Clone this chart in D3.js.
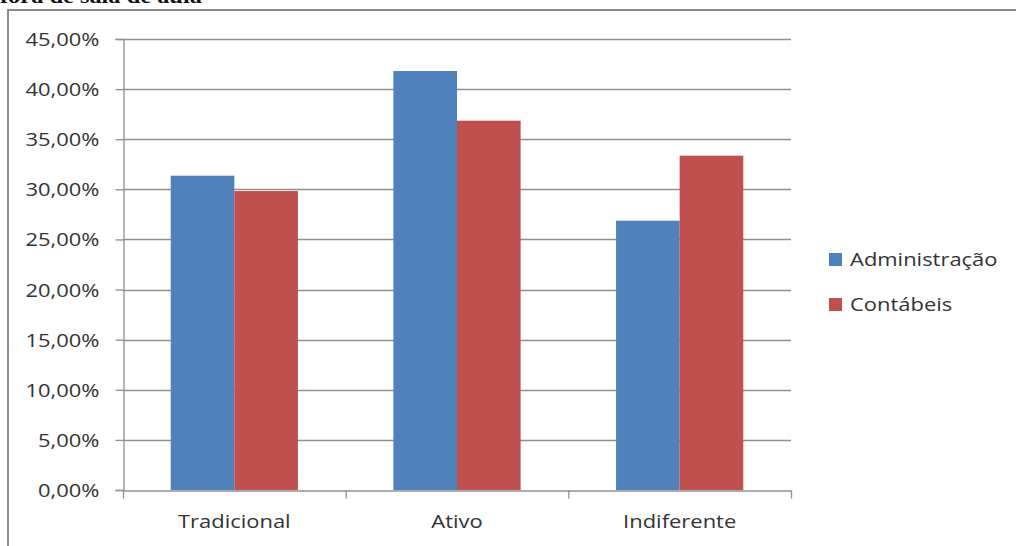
<!DOCTYPE html>
<html>
<head>
<meta charset="utf-8">
<script src="https://cdn.jsdelivr.net/npm/d3@7"></script>
<style>
  html, body { margin: 0; padding: 0; background: #fff; }
  svg { display: block; }
</style>
</head>
<body>
<svg id="chart" width="1016" height="546"></svg>
<script>
// ---- data ----
const categories = ["Tradicional", "Ativo", "Indiferente"];
const seriesNames = ["Administração", "Contábeis"];
const administracao = [0.3136, 0.4181, 0.2687];
const contabeis = [0.2983, 0.3685, 0.3336];
const yTicks = [0, 0.05, 0.10, 0.15, 0.20, 0.25, 0.30, 0.35, 0.40, 0.45];
const titleText = "fora de sala de aula";

const colors = ["#4F81BD", "#C0504D"];
const seriesValues = [administracao, contabeis];

const SX = 1.22;                 // horizontal stretch of the original picture
const FONT = "'Open Sans', sans-serif";
const TXT = "#333333";
const GRID = "#8f8f8f";

const svg = d3.select("#chart");
const W = 1016, H = 546;
const plot = { left: 123, right: 791, top: 39, bottom: 490 };

// frame and cropped title
svg.append("path")
  .attr("d", `M8,${H} L8,10 L${W},10`)
  .attr("fill", "none").attr("stroke", "#8a8a8a").attr("stroke-width", 2);

svg.append("g").attr("transform", "translate(0,3) scale(1.22,1)")
  .append("text").text(titleText)
  .attr("font-family", "'Liberation Serif', serif").attr("font-weight", "bold")
  .attr("font-size", 20).attr("fill", "#111");

const locale = d3.formatLocale({ decimal: ",", thousands: ".", grouping: [3], currency: ["R$", ""] });
const pct = locale.format(".2%");

const y = d3.scaleLinear().domain([0, 0.45]).range([plot.bottom, plot.top]);
const x0 = d3.scaleBand().domain(categories).range([plot.left, plot.right]).paddingInner(0).paddingOuter(0);
const x1 = d3.scaleBand().domain(seriesNames).range([0, x0.bandwidth()]).paddingInner(0).paddingOuter(0.75);
const xLin = d3.scaleLinear().domain([0, categories.length]).range([plot.left, plot.right]);

// gridlines
svg.append("g").selectAll("line").data(yTicks.filter(d => d > 0)).join("line")
  .attr("x1", plot.left).attr("x2", plot.right)
  .attr("y1", d => Math.round(y(d)) + 0.5).attr("y2", d => Math.round(y(d)) + 0.5)
  .attr("stroke", GRID).attr("stroke-width", 1.3);

// y axis
const yAxis = svg.append("g").attr("transform", `translate(${plot.left + 0.5},0)`)
  .call(d3.axisLeft(y).tickValues(yTicks).tickFormat(pct).tickSize(8).tickPadding(0));
yAxis.select(".domain").attr("stroke", GRID).attr("stroke-width", 1.3);
yAxis.selectAll(".tick line").attr("stroke", GRID).attr("stroke-width", 1.3);
yAxis.selectAll(".tick text")
  .attr("x", 0).attr("dy", "0.36em")
  .attr("transform", `translate(-24,0) scale(${SX},1)`)
  .attr("font-family", FONT).attr("font-size", 18).attr("fill", TXT);

// bars
const groups = svg.append("g").selectAll("g").data(categories).join("g")
  .attr("transform", d => `translate(${x0(d)},0)`);
groups.selectAll("rect")
  .data((c, i) => seriesNames.map((s, j) => ({ s, v: seriesValues[j][i], j })))
  .join("rect")
  .attr("x", d => x1(d.s)).attr("width", x1.bandwidth())
  .attr("y", d => y(d.v)).attr("height", d => y(0) - y(d.v))
  .attr("fill", d => colors[d.j]);

// x axis (boundary ticks)
const xAxis = svg.append("g").attr("transform", `translate(0,${plot.bottom + 0.5})`)
  .call(d3.axisBottom(xLin).tickValues(d3.range(categories.length + 1)).tickFormat("").tickSize(8).tickSizeOuter(0));
xAxis.select(".domain").attr("stroke", GRID).attr("stroke-width", 1.3);
xAxis.selectAll(".tick line").attr("stroke", GRID).attr("stroke-width", 1.3);

// category labels
const xLab = svg.append("g").attr("transform", `translate(0,${plot.bottom})`)
  .call(d3.axisBottom(x0).tickSize(0).tickPadding(0));
xLab.select(".domain").remove();
xLab.selectAll(".tick text")
  .attr("y", 0).attr("dy", 0)
  .attr("transform", `translate(0,38) scale(${SX},1)`)
  .attr("font-family", FONT).attr("font-size", 18).attr("fill", TXT);

// legend
const legend = svg.append("g").selectAll("g").data(seriesNames).join("g")
  .attr("transform", (d, i) => `translate(829,${253 + i * 45})`);
legend.append("rect").attr("width", 13).attr("height", 13).attr("fill", (d, i) => colors[i]);
legend.append("g").attr("transform", `translate(21,13) scale(${SX},1)`)
  .append("text").text(d => d)
  .attr("font-family", FONT).attr("font-size", 18).attr("fill", TXT);
</script>
</body>
</html>
